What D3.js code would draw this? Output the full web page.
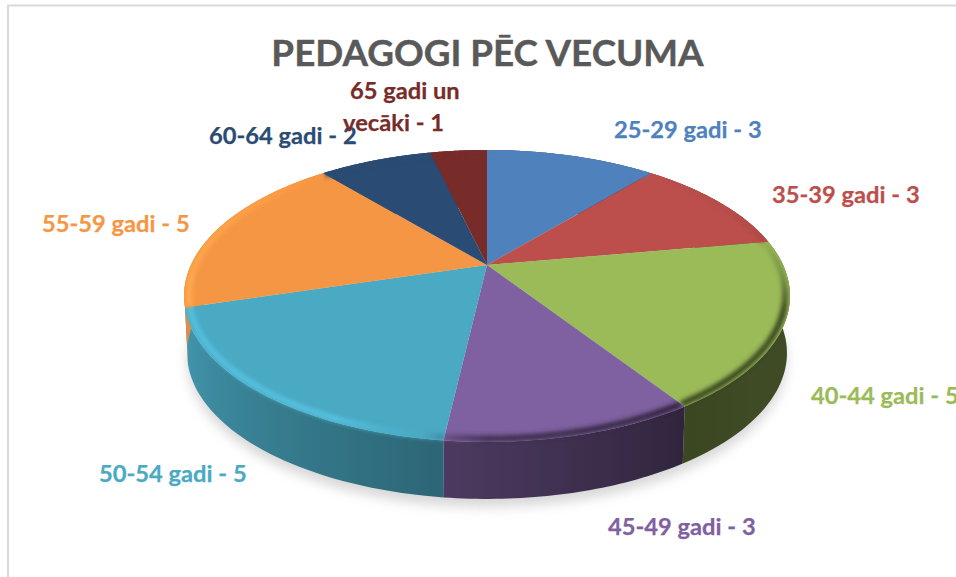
<!DOCTYPE html>
<html lang="en">
<head>
<meta charset="utf-8">
<title>Pedagogi pēc vecuma</title>
<script src="https://cdn.jsdelivr.net/npm/d3@7"></script>
<style>
html, body { margin: 0; padding: 0; background: #fff; overflow: hidden; }
text { font-family: Lato, "Open Sans", sans-serif; font-weight: 700; }
</style>
</head>
<body>
<script>
// data
const categories = ["25-29 gadi", "35-39 gadi", "40-44 gadi", "45-49 gadi", "50-54 gadi", "55-59 gadi", "60-64 gadi", "65 gadi un vecāki"];
const values = [3, 3, 5, 3, 5, 5, 2, 1];
const colors = ["#4f81bd", "#bc4f4c", "#9bbb59", "#7f60a0", "#4aa9c3", "#f59644", "#2a4b73", "#772c2a"];

// label layout: left edge and baseline of each line
const labelPos = [
  [[614, 138]], [[772, 203]], [[811, 404]], [[608, 535]],
  [[99, 482]], [[42, 232]], [[209, 144]], [[350, 99], [343, 131]]
];

const w = 956, h = 577;
const cx = 487, cy = 265;      // where the slices meet
const a = 296.1, b = 139.4, k = 0.212;  // perspective of the disc
const depth = 57;
const deg = Math.PI / 180;

const svg = d3.select("body").append("svg").attr("width", w).attr("height", h);
const defs = svg.append("defs");

defs.append("filter").attr("id", "shadowBlur")
  .attr("x", "-10%").attr("y", "-10%").attr("width", "120%").attr("height", "120%")
  .append("feGaussianBlur").attr("stdDeviation", 6);
defs.append("filter").attr("id", "bevelBlur")
  .attr("filterUnits", "userSpaceOnUse")
  .attr("x", 0).attr("y", 0).attr("width", w).attr("height", h)
  .append("feGaussianBlur").attr("stdDeviation", 2.2);

// frame of the chart, only top and left are in the picture
svg.append("path").attr("d", `M8,${h} V5.5 H${w}`)
  .attr("fill", "none").attr("stroke", "#d9d9d9").attr("stroke-width", 2);

// unit disc -> screen. r is radius 0..1, z is 0 on top and 1 at the bottom rim
function project(theta, r, z) {
  const s = r * Math.sin(theta), c = r * Math.cos(theta);
  const p = 1 + k * c;
  const shrink = 1 - 0.01 * z;
  return [cx + a * shrink * s / p, cy - b * c / p + depth * z];
}

const line = d3.line();
const pie = d3.pie().sort(null).value(d => d)(values);

function steps(start, end, n) {
  return d3.range(n + 1).map(i => start + (end - start) * i / n);
}

// soft shadow under the disc
svg.append("path")
  .attr("d", line(steps(0, 2 * Math.PI, 180).map(t => project(t, 1, 1.14))) + "Z")
  .attr("fill", "#8a8a8a").attr("opacity", 0.34)
  .attr("filter", "url(#shadowBlur)");

// side wall brightness by angle
const wallShade = d3.scaleLinear()
  .domain([60, 130, 146, 186, 253, 280].map(d => d * deg))
  .range([0.4, 0.4, 0.38, 0.6, 0.9, 0.95]).clamp(true);

const wallPath = d => {
  const ts = steps(d.startAngle, d.endAngle, 40);
  return line(ts.map(t => project(t, 1, 0)).concat(ts.slice().reverse().map(t => project(t, 1, 1)))) + "Z";
};

// each wall is one shape with a left-right gradient, no seams between steps
const wall = svg.append("g");
pie.forEach((d, i) => {
  const ts = steps(d.startAngle, d.endAngle, 40);
  const xs = ts.map(t => project(t, 1, 0)[0]);
  const x0 = d3.min(xs), x1 = d3.max(xs);
  const grad = defs.append("linearGradient").attr("id", "wallGrad" + i)
    .attr("gradientUnits", "userSpaceOnUse")
    .attr("x1", x0).attr("x2", x1 + 0.01).attr("y1", 0).attr("y2", 0);
  ts.slice().sort((p, q) => project(p, 1, 0)[0] - project(q, 1, 0)[0]).forEach(t => {
    grad.append("stop")
      .attr("offset", (project(t, 1, 0)[0] - x0) / (x1 - x0 + 0.01))
      .attr("stop-color", d3.interpolateRgb("#000", colors[i])(wallShade(t)));
  });
  wall.append("path")
    .attr("d", wallPath(d))
    .attr("fill", `url(#wallGrad${i})`);
});

// top face
const slicePath = d => line([[cx, cy]].concat(
  steps(d.startAngle, d.endAngle, 90).map(t => project(t, 1, 0)))) + "Z";

svg.append("g").selectAll("path").data(pie).join("path")
  .attr("d", slicePath)
  .attr("fill", (d, i) => colors[i]);

// bevel along the rim, dark on the right, light on the left
const bevelAmount = d3.scaleLinear()
  .domain([40, 80, 95, 108, 146, 180, 190, 205, 260, 290, 320].map(d => d * deg))
  .range([0, -0.05, -0.2, -0.5, -0.5, -0.4, 0, 0.16, 0.16, 0.1, 0]).clamp(true);

pie.forEach((d, i) => {
  const id = "sliceClip" + i;
  const clip = defs.append("clipPath").attr("id", id);
  clip.append("path").attr("d", slicePath(d));
  // the blur may spill a little over the wall of the front slices
  clip.append("path").attr("d", wallPath(d));
  const g = svg.append("g").attr("clip-path", `url(#${id})`)
    .append("g").attr("filter", "url(#bevelBlur)");
  const n = Math.max(1, Math.ceil((d.endAngle - d.startAngle) / deg));
  d3.pairs(steps(d.startAngle, d.endAngle, n)).forEach(([t0, t1]) => {
    const v = bevelAmount((t0 + t1) / 2);
    const col = v < 0
      ? d3.interpolateRgb(colors[i], "#000")(-v * 1.3)
      : d3.rgb(colors[i]).brighter(v * 2.4).formatHex();
    g.append("path")
      .attr("d", line([project(t0, 0.985, 0), project(t1, 0.985, 0)]))
      .attr("fill", "none").attr("stroke", col).attr("stroke-width", 6);
  });
});

// title
svg.append("text").attr("x", 487.5).attr("y", 66)
  .attr("text-anchor", "middle")
  .attr("font-size", 36.8).attr("fill", "#595959")
  .attr("stroke", "#595959").attr("stroke-width", 0.4)
  .text("PEDAGOGI PĒC VECUMA");

// labels, the last category wraps on two lines
categories.forEach((c, i) => {
  const parts = i === 7 ? ["65 gadi un", "vecāki - " + values[i]] : [c + " - " + values[i]];
  parts.forEach((txt, j) => {
    svg.append("text")
      .attr("x", labelPos[i][j][0]).attr("y", labelPos[i][j][1])
      .attr("font-size", 23.7).attr("fill", colors[i])
      .attr("stroke", colors[i]).attr("stroke-width", 0.25)
      .text(txt);
  });
});
</script>
</body>
</html>
